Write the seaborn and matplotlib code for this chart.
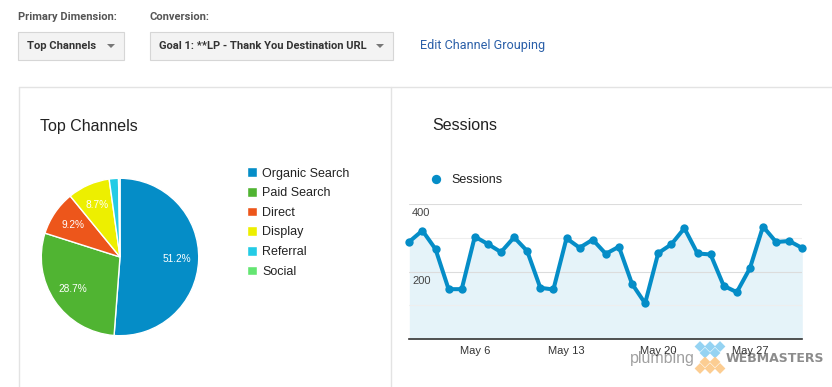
import numpy as np
import pandas as pd
import matplotlib.pyplot as plt
import seaborn as sns
from matplotlib.patches import Rectangle, RegularPolygon, Polygon

# channel split (pie)
channels = ["Organic Search", "Paid Search", "Direct", "Display", "Referral", "Social"]
channel_share = [51.2, 28.7, 9.2, 8.7, 1.9, 0.3]
channel_colors = ["#058DC7", "#50B432", "#ED561B", "#EDEF00", "#24CBE5", "#64E572"]

# daily sessions in May
may_days = list(range(1, 32))
sessions = [289, 322, 267, 148, 148, 304, 282, 258, 302, 261, 152, 147, 299, 271, 295, 253,
            274, 164, 106, 255, 281, 329, 254, 251, 158, 139, 210, 334, 288, 291, 270]
tick_days = [6, 13, 20, 27]
tick_labels = ["May 6", "May 13", "May 20", "May 27"]
y_labels = [200, 400]

sns.set_theme(style="white")
plt.rcParams["font.family"] = ["Liberation Sans", "DejaVu Sans"]

W, H = 832, 387
fig = plt.figure(figsize=(W / 100, H / 100), dpi=100)
fig.patch.set_facecolor("white")


def px_box(x0, y0, x1, y1):
    return [x0 / W, 1 - y1 / H, (x1 - x0) / W, (y1 - y0) / H]


# page furniture, in pixel coords
ui = fig.add_axes([0, 0, 1, 1])
ui.set_xlim(0, W)
ui.set_ylim(H, 0)
ui.axis("off")

ui.text(18, 17, "Primary Dimension:", fontsize=8, fontweight="bold", color="#555555",
        family="Roboto", va="center")
ui.text(150, 17, "Conversion:", fontsize=8, fontweight="bold", color="#555555",
        family="Roboto", va="center")
for x0, x1, label in [(18, 124, "Top Channels"), (150, 393, "Goal 1: **LP - Thank You Destination URL")]:
    ui.add_patch(Rectangle((x0, 32), x1 - x0, 28, facecolor="#F3F3F3", edgecolor="#D6D6D6", lw=0.8))
    ui.text(x0 + 9, 46, label, fontsize=8, fontweight="bold", color="#333333",
            family="Roboto", va="center")
    ui.add_patch(Polygon([(x1 - 17, 44), (x1 - 9, 44), (x1 - 13, 48)], closed=True,
                         facecolor="#777777", edgecolor="none"))
ui.text(420, 46, "Edit Channel Grouping", fontsize=9.1, color="#2A5FA8", family="Roboto", va="center")

# panel borders
ui.plot([18.7, W], [86.7, 86.7], color="#E3E3E3", lw=1)
ui.plot([18.7, 18.7], [86.7, H], color="#E3E3E3", lw=1)
ui.plot([391.3, 391.3], [86.7, H], color="#E3E3E3", lw=1)

ui.text(40, 126, "Top Channels", fontsize=11.5, color="#222222", va="center")
ui.text(432, 126, "Sessions", fontsize=11.5, color="#222222", va="center")

# pie chart
pie_ax = fig.add_axes(px_box(40.5, 177.5, 199.5, 336.5))
wedges, texts, autotexts = pie_ax.pie(
    channel_share, colors=channel_colors, startangle=90, counterclock=False,
    autopct=lambda p: f"{p:.1f}%" if p > 5 else "", pctdistance=0.72,
    wedgeprops=dict(edgecolor="white", linewidth=1),
    textprops=dict(color="white", fontsize=7.3))
pie_ax.set_xlim(-1.01, 1.01)
pie_ax.set_ylim(-1.01, 1.01)
pie_ax.set_aspect("equal")
pie_ax.legend(wedges, channels, loc="upper left", bbox_to_anchor=(247.2 / W, 1 - 167.5 / H),
              bbox_transform=fig.transFigure, frameon=False, handlelength=0.8, handleheight=0.8,
              handletextpad=0.4, labelspacing=0.6, borderpad=0, borderaxespad=0,
              fontsize=9, labelcolor="#222222")

# sessions line chart
ax = fig.add_axes(px_box(409.3, 204.3, 802.3, 339))
ax.fill_between(may_days, sessions, color="#058DC7", alpha=0.1, lw=0, zorder=0.3)
sns.lineplot(x=may_days, y=sessions, ax=ax, color="#058DC7", marker="o", markersize=6,
             markeredgewidth=0, linewidth=2.9, zorder=3, clip_on=False)
ax.set_xlim(may_days[0], may_days[-1])
ax.set_ylim(0, 400)
ax.set_yticks(y_labels)
ax.set_yticks([100, 300], minor=True)
ax.set_yticklabels([])
ax.set_axisbelow(True)
ax.grid(axis="y", which="major", color="#DCDCDC", lw=0.8)
ax.grid(axis="y", which="minor", color="#EEEEEE", lw=0.8)
ax.grid(axis="x", visible=False)
ax.set_xticks(tick_days)
ax.set_xticklabels(tick_labels, fontsize=8, color="#333333")
ax.tick_params(axis="both", which="both", length=0, pad=5)
for side in ["top", "left", "right"]:
    ax.spines[side].set_visible(False)
ax.spines["bottom"].set_color("#333333")
ax.spines["bottom"].set_linewidth(1.2)
ax.patch.set_alpha(0)
for v in y_labels:
    ax.annotate(str(v), xy=(0, v), xycoords=("axes fraction", "data"), xytext=(2, -3),
                textcoords="offset points", va="top", ha="left", fontsize=8, color="#444444")

# series legend
ui.scatter([436], [179], s=45, color="#058DC7", lw=0)
ui.text(451, 180, "Sessions", fontsize=9, color="#222222", va="center")

# watermark
for cx, cy, col in [(700, 346.5, "#8FD1F2"), (710, 346.5, "#8FD1F2"), (720, 346.5, "#8FD1F2"),
                    (705, 353, "#8FD1F2"), (715, 353, "#8FD1F2"),
                    (705, 362, "#FCCB8C"), (715, 362, "#FCCB8C"),
                    (700, 368.5, "#FCCB8C"), (710, 368.5, "#FCCB8C"), (720, 368.5, "#FCCB8C")]:
    ui.add_patch(RegularPolygon((cx, cy), numVertices=4, radius=5.4, facecolor=col,
                                edgecolor="none", alpha=0.95, zorder=5))
ui.text(630, 358, "plumbing", fontsize=11.5, color="#A0A0A0", va="center", zorder=5)
ui.text(726, 358, "WEBMASTERS", fontsize=9, fontweight="bold", color="#8C8C8C",
        family="DejaVu Sans", va="center", zorder=5)

fig.savefig("out.png", dpi=100)
